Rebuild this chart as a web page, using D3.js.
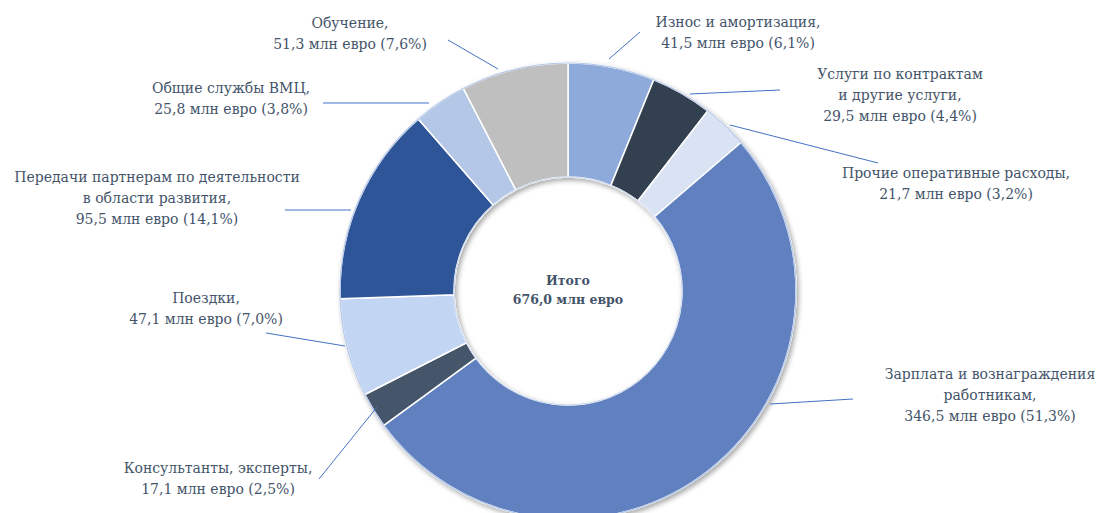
<!DOCTYPE html>
<html>
<head>
<meta charset="utf-8">
<script src="https://cdn.jsdelivr.net/npm/d3@7"></script>
<style>
html,body{margin:0;padding:0;background:#fff;}
svg{display:block;}
</style>
</head>
<body>
<svg id="chart" width="1096" height="513"></svg>
<script>
// ---- data ----
const categories = [
  "Износ и амортизация",
  "Услуги по контрактам и другие услуги",
  "Прочие оперативные расходы",
  "Зарплата и вознаграждения работникам",
  "Консультанты, эксперты",
  "Поездки",
  "Передачи партнерам по деятельности в области развития",
  "Общие службы ВМЦ",
  "Обучение"
];
const values = [41.5, 29.5, 21.7, 346.5, 17.1, 47.1, 95.5, 25.8, 51.3];
const percents = [6.1, 4.4, 3.2, 51.3, 2.5, 7.0, 14.1, 3.8, 7.6];
const nameLines = [
  ["Износ и амортизация,"],
  ["Услуги по контрактам", "и другие услуги,"],
  ["Прочие оперативные расходы,"],
  ["Зарплата и вознаграждения", "работникам,"],
  ["Консультанты, эксперты,"],
  ["Поездки,"],
  ["Передачи партнерам по деятельности", "в области развития,"],
  ["Общие службы ВМЦ,"],
  ["Обучение,"]
];
const totalLabel = ["Итого", "676,0 млн евро"];
const unit = "млн евро";

// ---- styling / layout ----
const FONT = "'DejaVu Serif', serif";
const colors = ["#8eaadb","#333f50","#dae3f3","#6080c0","#44546a","#c2d5f3","#2f5597","#b4c7e7","#bfbfbf"];
const cx = 568, cy = 291, rOuter = 228, rInner = 114;
const labelLayout = [
  {x:738, y:27,  leader:[640,32,609,59]},
  {x:900, y:79,  leader:[780,90,690,94]},
  {x:956, y:178, leader:[878,163,730,125]},
  {x:990, y:379, leader:[853,399,770,404]},
  {x:218, y:473, leader:[319,479,377,407]},
  {x:206, y:303, leader:[266,333,345,346]},
  {x:157, y:182, leader:[285,210,351,210]},
  {x:231, y:93,  leader:[323,103,429,103]},
  {x:350, y:28,  leader:[448,40,498,69]}
];
const lineStep = 21;
const textColor = "#44546a";

const fmt = v => d3.format(".1f")(v).replace(".", ",");

const svg = d3.select("#chart");
const defs = svg.append("defs");
const f = defs.append("filter").attr("id","shadow").attr("x","-20%").attr("y","-20%").attr("width","140%").attr("height","140%");
f.append("feDropShadow").attr("dx",2).attr("dy",2.5).attr("stdDeviation",2.5).attr("flood-color","#000").attr("flood-opacity",0.35);

const pie = d3.pie().sort(null).value(d => d).startAngle(0).endAngle(2*Math.PI);
const arcs = pie(values);
const arc = d3.arc().innerRadius(rInner).outerRadius(rOuter);

const g = svg.append("g").attr("transform", `translate(${cx},${cy})`);
const ring = g.append("g").attr("filter","url(#shadow)");
ring.selectAll("path.slice")
  .data(arcs)
  .join("path")
  .attr("class","slice")
  .attr("d", arc)
  .attr("fill", (d,i) => colors[i])
  .attr("stroke", "#ffffff")
  .attr("stroke-width", 1.5)
  .attr("stroke-linejoin","round");

g.append("circle").attr("r", rOuter).attr("fill","none").attr("stroke","#b4c7e7").attr("stroke-width",1.2);
g.append("circle").attr("r", rInner).attr("fill","none").attr("stroke","#c9d6ee").attr("stroke-width",1);

svg.append("g").selectAll("line")
  .data(labelLayout)
  .join("line")
  .attr("x1", d => d.leader[0]).attr("y1", d => d.leader[1])
  .attr("x2", d => d.leader[2]).attr("y2", d => d.leader[3])
  .attr("stroke", "#4472c4").attr("stroke-width", 1);

const labels = svg.append("g");
categories.forEach((c, i) => {
  const L = labelLayout[i];
  const lines = nameLines[i].concat([`${fmt(values[i])} ${unit} (${fmt(percents[i])}%)`]);
  const t = labels.append("text")
    .attr("text-anchor","middle")
    .attr("font-family", FONT)
    .attr("font-size", 14)
    .attr("fill", textColor);
  lines.forEach((ln, k) => {
    t.append("tspan").attr("x", L.x).attr("y", L.y + k*lineStep).text(ln);
  });
});

const ct = svg.append("text")
  .attr("text-anchor","middle")
  .attr("font-family", FONT)
  .attr("font-size", 12.5)
  .attr("font-weight","bold")
  .attr("fill", textColor);
totalLabel.forEach((ln,k) => ct.append("tspan").attr("x", cx).attr("y", 285 + k*18.5).text(ln));
</script>
</body>
</html>
